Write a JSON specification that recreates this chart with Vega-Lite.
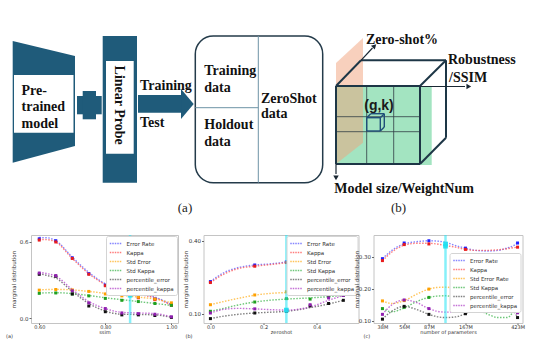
{
  "$schema": "https://vega.github.io/schema/vega-lite/v6.json",
  "padding": 0,
  "background": "white",
  "spacing": 0,
  "resolve": {"scale": {"x": "independent", "y": "independent", "color": "independent", "fill": "independent"}, "legend": {"color": "independent"}},
  "config": {
    "view": {"stroke": null},
    "axis": {"labelFontSize": 5.5, "titleFontSize": 5.5, "titleFontWeight": "normal", "domain": false, "grid": false, "labelFont": "DejaVu Sans", "titleFont": "DejaVu Sans", "labelColor": "#333", "titleColor": "#333", "tickColor": "#666", "labelFlush": false, "labelOverlap": false},
    "axisY": {"tickSize": 2, "labelPadding": 1, "minExtent": 13, "maxExtent": 13, "titlePadding": 2},
    "axisX": {"tickSize": 1.5, "labelPadding": -0.5, "labelFontSize": 5, "titleFontSize": 5, "titlePadding": 0.7},
    "legend": {"fillColor": "white", "strokeColor": "#d4d4d4", "padding": 3, "cornerRadius": 2, "labelFontSize": 5.5, "labelFont": "DejaVu Sans", "labelColor": "#333", "symbolType": "M-1,0H2.2", "symbolStrokeWidth": 1.3, "symbolDash": [1.5, 1], "symbolSize": 56, "rowPadding": 1, "labelOffset": 8.5, "offset": 1},
    "title": {"fontSize": 5, "fontWeight": "normal", "color": "#333", "font": "DejaVu Sans", "orient": "bottom", "anchor": "start", "offset": -1, "frame": "group"}
  },
  "datasets": {
    "dAnchor": [{"x": 0, "y": 0}],
    "dGreen": [{"x": 335, "x2": 430.7, "y": 85, "y2": 164}],
    "dOrange": [{"x": 335, "y": 62, "y2": 163}, {"x": 362, "y": 37, "y2": 141.7}],
    "dArea": [{"id": "trap", "x": 11.7, "y": 40, "y2": 161.7}, {"id": "trap", "x": 74, "y": 55, "y2": 145}, {"id": "head", "x": 180, "y": 88, "y2": 118}, {"id": "head", "x": 192.7, "y": 103, "y2": 103}],
    "dDark": [{"x": 101.7, "x2": 136, "y": 35, "y2": 181.7}, {"x": 76, "x2": 100.7, "y": 95, "y2": 113.3}, {"x": 81.7, "x2": 95, "y": 90, "y2": 118.3}, {"x": 137, "x2": 180.5, "y": 94, "y2": 111.7}],
    "dWhite": [{"x": 13, "x2": 72.5, "y": 74, "y2": 131.7}, {"x": 105, "x2": 132.7, "y": 60, "y2": 152.7}],
    "dBox": [{"x": 194.3, "x2": 321.7, "y": 35, "y2": 181.7}],
    "dDiv": [{"x": 257.3, "x2": 257.3, "y": 35, "y2": 181.7}, {"x": 194.3, "x2": 257.3, "y": 106.7, "y2": 106.7}],
    "dGrid": [{"x": 365.7, "x2": 365.7, "y": 85, "y2": 163}, {"x": 392.7, "x2": 392.7, "y": 85, "y2": 163}, {"x": 335, "x2": 419, "y": 115.7, "y2": 115.7}, {"x": 335, "x2": 419, "y": 130.7, "y2": 130.7}],
    "dCube": [
      {"x": 335, "x2": 419, "y": 85, "y2": 85},
      {"x": 335, "x2": 419, "y": 163, "y2": 163},
      {"x": 335, "x2": 335, "y": 85, "y2": 163},
      {"x": 419, "x2": 419, "y": 85, "y2": 163},
      {"x": 360, "x2": 445, "y": 59.3, "y2": 59.3},
      {"x": 445, "x2": 445, "y": 59.3, "y2": 136.7},
      {"x": 335, "x2": 360, "y": 85, "y2": 59.3},
      {"x": 419, "x2": 445, "y": 85, "y2": 59.3},
      {"x": 419, "x2": 445, "y": 163, "y2": 136.7}
    ],
    "dSmall": [
      {"x": 365.7, "x2": 379.3, "y": 116.7, "y2": 116.7},
      {"x": 365.7, "x2": 379.3, "y": 130, "y2": 130},
      {"x": 365.7, "x2": 365.7, "y": 116.7, "y2": 130},
      {"x": 379.3, "x2": 379.3, "y": 116.7, "y2": 130},
      {"x": 369.7, "x2": 383.3, "y": 112.7, "y2": 112.7},
      {"x": 383.3, "x2": 383.3, "y": 112.7, "y2": 126},
      {"x": 365.7, "x2": 369.7, "y": 116.7, "y2": 112.7},
      {"x": 379.3, "x2": 383.3, "y": 116.7, "y2": 112.7},
      {"x": 379.3, "x2": 383.3, "y": 130, "y2": 126}
    ],
    "dAxisLines": [{"x": 360, "x2": 371.5, "y": 59.3, "y2": 47}, {"x": 419, "x2": 464, "y": 85.5, "y2": 85.5}, {"x": 335, "x2": 335, "y": 163, "y2": 173}],
    "dHeads": [{"x": 373, "y": 45.5, "a": 45}, {"x": 467, "y": 85.5, "a": 90}, {"x": 335, "y": 176, "a": 180}],
    "dText": [
      {"x": 20.5, "y": 94, "t": "Pre-"},
      {"x": 20.5, "y": 110, "t": "trained"},
      {"x": 20.5, "y": 126.7, "t": "model"},
      {"x": 139, "y": 89.3, "t": "Training"},
      {"x": 139, "y": 126, "t": "Test"},
      {"x": 203.3, "y": 74, "t": "Training"},
      {"x": 203.3, "y": 90.7, "t": "data"},
      {"x": 203.3, "y": 128.3, "t": "Holdout"},
      {"x": 203.3, "y": 145, "t": "data"},
      {"x": 260, "y": 101.7, "t": "ZeroShot"},
      {"x": 260, "y": 116.7, "t": "data"},
      {"x": 365, "y": 42.7, "t": "Zero-shot%"},
      {"x": 447, "y": 63.3, "t": "Robustness"},
      {"x": 448, "y": 81, "t": "/SSIM"},
      {"x": 333.3, "y": 191.7, "t": "Model size/WeightNum"}
    ],
    "dRot": [{"x": 113.5, "y": 104.2, "t": "Linear Probe"}],
    "dCap": [{"x": 184, "y": 211, "t": "(a)"}, {"x": 397.5, "y": 211, "t": "(b)"}],
    "dGk": [{"x": 378, "y": 109, "t": "(g,k)"}],
    "aCurve": [
      {"x": 0.6, "Error Rate": 0.635, "Kappa": 0.62, "Std Error": 0.222, "Std Kappa": 0.197, "percentile_error": 0.35, "percentile_kappa": 0.36},
      {"x": 0.625, "Error Rate": 0.633, "Kappa": 0.618, "Std Error": 0.225, "Std Kappa": 0.199, "percentile_error": 0.335, "percentile_kappa": 0.35},
      {"x": 0.65, "Error Rate": 0.61, "Kappa": 0.6, "Std Error": 0.226, "Std Kappa": 0.2, "percentile_error": 0.315, "percentile_kappa": 0.33},
      {"x": 0.7, "Error Rate": 0.48, "Kappa": 0.47, "Std Error": 0.222, "Std Kappa": 0.193, "percentile_error": 0.21, "percentile_kappa": 0.225},
      {"x": 0.75, "Error Rate": 0.36, "Kappa": 0.35, "Std Error": 0.21, "Std Kappa": 0.178, "percentile_error": 0.115, "percentile_kappa": 0.13},
      {"x": 0.8, "Error Rate": 0.27, "Kappa": 0.265, "Std Error": 0.195, "Std Kappa": 0.16, "percentile_error": 0.055, "percentile_kappa": 0.075},
      {"x": 0.85, "Error Rate": 0.22, "Kappa": 0.215, "Std Error": 0.18, "Std Kappa": 0.145, "percentile_error": 0.03, "percentile_kappa": 0.045},
      {"x": 0.9, "Error Rate": 0.19, "Kappa": 0.185, "Std Error": 0.165, "Std Kappa": 0.13, "percentile_error": 0.028, "percentile_kappa": 0.04},
      {"x": 0.95, "Error Rate": 0.165, "Kappa": 0.16, "Std Error": 0.15, "Std Kappa": 0.115, "percentile_error": 0.025, "percentile_kappa": 0.035},
      {"x": 1.0, "Error Rate": 0.105, "Kappa": 0.1, "Std Error": 0.12, "Std Kappa": 0.1, "percentile_error": 0.005, "percentile_kappa": 0.01}
    ],
    "aPts": [
      {"x": 0.6, "Error Rate": 0.625, "Kappa": 0.615, "Std Error": 0.22, "Std Kappa": 0.195, "percentile_error": 0.345, "percentile_kappa": 0.355},
      {"x": 0.65, "Error Rate": 0.61, "Kappa": 0.6, "Std Error": 0.225, "Std Kappa": 0.198, "percentile_error": 0.33, "percentile_kappa": 0.335},
      {"x": 0.7, "Error Rate": 0.475, "Kappa": 0.47, "Std Error": 0.222, "Std Kappa": 0.19, "percentile_error": 0.19, "percentile_kappa": 0.215},
      {"x": 0.75, "Error Rate": 0.35, "Kappa": 0.345, "Std Error": 0.21, "Std Kappa": 0.175, "percentile_error": 0.095, "percentile_kappa": 0.12},
      {"x": 0.8, "Error Rate": 0.26, "Kappa": 0.255, "Std Error": 0.19, "Std Kappa": 0.155, "percentile_error": 0.05, "percentile_kappa": 0.075},
      {"x": 0.85, "Error Rate": 0.215, "Kappa": 0.22, "Std Error": 0.175, "Std Kappa": 0.14, "percentile_error": 0.025, "percentile_kappa": 0.04},
      {"x": 0.9, "Error Rate": 0.165, "Kappa": 0.16, "Std Error": 0.165, "Std Kappa": 0.13, "percentile_error": 0.025, "percentile_kappa": 0.035},
      {"x": 0.95, "Error Rate": 0.15, "Kappa": 0.145, "Std Error": 0.15, "Std Kappa": 0.115, "percentile_error": 0.02, "percentile_kappa": 0.03},
      {"x": 1.0, "Error Rate": 0.105, "Kappa": 0.1, "Std Error": 0.12, "Std Kappa": 0.1, "percentile_error": 0.005, "percentile_kappa": 0.01}
    ],
    "bCurve": [
      {"x": 0, "Error Rate": 0.232, "Kappa": 0.228, "Std Error": 0.137, "Std Kappa": 0.11, "percentile_error": 0.08, "percentile_kappa": 0.103},
      {"x": 0.05, "Error Rate": 0.268, "Kappa": 0.262, "Std Error": 0.15, "Std Kappa": 0.122, "percentile_error": 0.09, "percentile_kappa": 0.118},
      {"x": 0.1, "Error Rate": 0.288, "Kappa": 0.284, "Std Error": 0.162, "Std Kappa": 0.135, "percentile_error": 0.097, "percentile_kappa": 0.122},
      {"x": 0.1667, "Error Rate": 0.3, "Kappa": 0.295, "Std Error": 0.176, "Std Kappa": 0.148, "percentile_error": 0.103, "percentile_kappa": 0.12},
      {"x": 0.22, "Error Rate": 0.304, "Kappa": 0.301, "Std Error": 0.183, "Std Kappa": 0.155, "percentile_error": 0.106, "percentile_kappa": 0.117},
      {"x": 0.2857, "Error Rate": 0.313, "Kappa": 0.31, "Std Error": 0.187, "Std Kappa": 0.16, "percentile_error": 0.11, "percentile_kappa": 0.115},
      {"x": 0.375, "Error Rate": 0.34, "Kappa": 0.335, "Std Error": 0.19, "Std Kappa": 0.165, "percentile_error": 0.125, "percentile_kappa": 0.128},
      {"x": 0.4444, "Error Rate": 0.37, "Kappa": 0.362, "Std Error": 0.195, "Std Kappa": 0.17, "percentile_error": 0.14, "percentile_kappa": 0.155},
      {"x": 0.5, "Error Rate": 0.4, "Kappa": 0.39, "Std Error": 0.2, "Std Kappa": 0.175, "percentile_error": 0.155, "percentile_kappa": 0.175}
    ],
    "bPts": [
      {"x": 0, "Error Rate": 0.232, "Kappa": 0.228, "Std Error": 0.137, "Std Kappa": 0.11, "percentile_error": 0.08, "percentile_kappa": 0.103},
      {"x": 0.1667, "Error Rate": 0.3, "Kappa": 0.295, "Std Error": 0.177, "Std Kappa": 0.148, "percentile_error": 0.103, "percentile_kappa": 0.12},
      {"x": 0.2857, "Error Rate": 0.313, "Kappa": 0.31, "Std Error": 0.19, "Std Kappa": 0.162, "percentile_error": 0.11, "percentile_kappa": 0.115},
      {"x": 0.375, "Error Rate": 0.34, "Kappa": 0.335, "Std Error": 0.185, "Std Kappa": 0.16, "percentile_error": 0.132, "percentile_kappa": 0.137},
      {"x": 0.4444, "Error Rate": 0.37, "Kappa": 0.362, "Std Error": 0.19, "Std Kappa": 0.172, "percentile_error": 0.142, "percentile_kappa": 0.165},
      {"x": 0.5, "Error Rate": 0.4, "Kappa": 0.39, "Std Error": 0.2, "Std Kappa": 0.175, "percentile_error": 0.155, "percentile_kappa": 0.175}
    ],
    "cCurve": [
      {"x": 38, "Error Rate": 0.294, "Kappa": 0.288, "Std Error Rate": 0.162, "Std Kappa": 0.138, "percentile_error": 0.105, "percentile_kappa": 0.12},
      {"x": 45, "Error Rate": 0.32, "Kappa": 0.315, "Std Error Rate": 0.154, "Std Kappa": 0.128, "percentile_error": 0.13, "percentile_kappa": 0.15},
      {"x": 56, "Error Rate": 0.34, "Kappa": 0.336, "Std Error Rate": 0.163, "Std Kappa": 0.14, "percentile_error": 0.145, "percentile_kappa": 0.165},
      {"x": 70, "Error Rate": 0.347, "Kappa": 0.342, "Std Error Rate": 0.183, "Std Kappa": 0.16, "percentile_error": 0.135, "percentile_kappa": 0.157},
      {"x": 87, "Error Rate": 0.35, "Kappa": 0.342, "Std Error Rate": 0.199, "Std Kappa": 0.173, "percentile_error": 0.12, "percentile_kappa": 0.138},
      {"x": 100, "Error Rate": 0.349, "Kappa": 0.34, "Std Error Rate": 0.204, "Std Kappa": 0.177, "percentile_error": 0.113, "percentile_kappa": 0.13},
      {"x": 117, "Error Rate": 0.345, "Kappa": 0.335, "Std Error Rate": 0.205, "Std Kappa": 0.178, "percentile_error": 0.11, "percentile_kappa": 0.127},
      {"x": 140, "Error Rate": 0.335, "Kappa": 0.33, "Std Error Rate": 0.2, "Std Kappa": 0.172, "percentile_error": 0.112, "percentile_kappa": 0.128},
      {"x": 167, "Error Rate": 0.327, "Kappa": 0.323, "Std Error Rate": 0.188, "Std Kappa": 0.16, "percentile_error": 0.122, "percentile_kappa": 0.138},
      {"x": 200, "Error Rate": 0.32, "Kappa": 0.32, "Std Error Rate": 0.172, "Std Kappa": 0.14, "percentile_error": 0.135, "percentile_kappa": 0.152},
      {"x": 250, "Error Rate": 0.318, "Kappa": 0.32, "Std Error Rate": 0.153, "Std Kappa": 0.12, "percentile_error": 0.15, "percentile_kappa": 0.165},
      {"x": 300, "Error Rate": 0.32, "Kappa": 0.322, "Std Error Rate": 0.142, "Std Kappa": 0.11, "percentile_error": 0.158, "percentile_kappa": 0.17},
      {"x": 350, "Error Rate": 0.327, "Kappa": 0.325, "Std Error Rate": 0.145, "Std Kappa": 0.11, "percentile_error": 0.152, "percentile_kappa": 0.163},
      {"x": 390, "Error Rate": 0.334, "Kappa": 0.328, "Std Error Rate": 0.168, "Std Kappa": 0.13, "percentile_error": 0.135, "percentile_kappa": 0.148},
      {"x": 423, "Error Rate": 0.343, "Kappa": 0.33, "Std Error Rate": 0.205, "Std Kappa": 0.173, "percentile_error": 0.11, "percentile_kappa": 0.125}
    ],
    "cPts": [
      {"x": 38, "Error Rate": 0.294, "Kappa": 0.288, "Std Error Rate": 0.162, "Std Kappa": 0.138, "percentile_error": 0.105, "percentile_kappa": 0.12},
      {"x": 56, "Error Rate": 0.343, "Kappa": 0.338, "Std Error Rate": 0.163, "Std Kappa": 0.142, "percentile_error": 0.145, "percentile_kappa": 0.165},
      {"x": 87, "Error Rate": 0.35, "Kappa": 0.34, "Std Error Rate": 0.199, "Std Kappa": 0.173, "percentile_error": 0.12, "percentile_kappa": 0.138},
      {"x": 167, "Error Rate": 0.327, "Kappa": 0.323, "Std Error Rate": 0.188, "Std Kappa": 0.165, "percentile_error": 0.122, "percentile_kappa": 0.138},
      {"x": 423, "Error Rate": 0.343, "Kappa": 0.33, "Std Error Rate": 0.205, "Std Kappa": 0.173, "percentile_error": 0.11, "percentile_kappa": 0.125}
    ]
  },
  "vconcat": [
    {
      "width": 512,
      "height": 232,
      "encoding": {
        "x": {"field": "x", "type": "quantitative", "scale": {"domain": [30, 542], "nice": false, "zero": false}, "axis": null},
        "y": {"field": "y", "type": "quantitative", "scale": {"domain": [0, 232], "nice": false, "zero": false, "reverse": true}, "axis": null}
      },
      "layer": [
        {"data": {"name": "dAnchor"}, "mark": {"type": "point", "opacity": 0, "size": 1}},
        {"data": {"name": "dGreen"}, "mark": {"type": "rect", "fill": "#a3e4c1"}, "encoding": {"x2": {"field": "x2"}, "y2": {"field": "y2"}}},
        {"data": {"name": "dOrange"}, "mark": {"type": "area", "orient": "vertical", "fill": "#f2a27c", "opacity": 0.5}, "encoding": {"y2": {"field": "y2"}}},
        {"data": {"name": "dArea"}, "mark": {"type": "area", "orient": "vertical", "fill": "#1f5b7a"}, "encoding": {"y2": {"field": "y2"}, "detail": {"field": "id"}}},
        {"data": {"name": "dDark"}, "mark": {"type": "rect", "fill": "#1f5b7a"}, "encoding": {"x2": {"field": "x2"}, "y2": {"field": "y2"}}},
        {"data": {"name": "dWhite"}, "mark": {"type": "rect", "fill": "white"}, "encoding": {"x2": {"field": "x2"}, "y2": {"field": "y2"}}},
        {"data": {"name": "dBox"}, "mark": {"type": "rect", "fill": "white", "stroke": "#243b4a", "strokeWidth": 1.5, "cornerRadius": 18}, "encoding": {"x2": {"field": "x2"}, "y2": {"field": "y2"}}},
        {"data": {"name": "dDiv"}, "mark": {"type": "rule", "color": "#6d93a6", "strokeWidth": 1}, "encoding": {"x2": {"field": "x2"}, "y2": {"field": "y2"}}},
        {"data": {"name": "dGrid"}, "mark": {"type": "rule", "color": "#2e3b42", "strokeWidth": 0.8}, "encoding": {"x2": {"field": "x2"}, "y2": {"field": "y2"}}},
        {"data": {"name": "dCube"}, "mark": {"type": "rule", "color": "#1d3646", "strokeWidth": 2}, "encoding": {"x2": {"field": "x2"}, "y2": {"field": "y2"}}},
        {"data": {"name": "dSmall"}, "mark": {"type": "rule", "color": "#1f4e79", "strokeWidth": 1.4}, "encoding": {"x2": {"field": "x2"}, "y2": {"field": "y2"}}},
        {"data": {"name": "dAxisLines"}, "mark": {"type": "rule", "color": "#1a2733", "strokeWidth": 1.2}, "encoding": {"x2": {"field": "x2"}, "y2": {"field": "y2"}}},
        {"data": {"name": "dHeads"}, "mark": {"type": "point", "shape": "triangle", "filled": true, "size": 30, "color": "#1a2733", "opacity": 1}, "encoding": {"angle": {"field": "a", "type": "quantitative", "scale": null}}},
        {"data": {"name": "dText"}, "mark": {"type": "text", "font": "Liberation Serif", "fontWeight": "bold", "fontSize": 14, "align": "left", "baseline": "alphabetic", "color": "#111"}, "encoding": {"text": {"field": "t"}}},
        {"data": {"name": "dRot"}, "mark": {"type": "text", "font": "Liberation Serif", "fontWeight": "bold", "fontSize": 14, "align": "center", "baseline": "alphabetic", "angle": 90, "color": "#111"}, "encoding": {"text": {"field": "t"}}},
        {"data": {"name": "dCap"}, "mark": {"type": "text", "font": "Liberation Serif", "fontSize": 13, "align": "center", "baseline": "alphabetic", "color": "#222"}, "encoding": {"text": {"field": "t"}}},
        {"data": {"name": "dGk"}, "mark": {"type": "text", "font": "Liberation Sans", "fontWeight": "bold", "fontSize": 14, "align": "center", "baseline": "alphabetic", "color": "#1a1a1a"}, "encoding": {"text": {"field": "t"}}}
      ]
    },
    {
      "spacing": 3.5,
      "resolve": {"scale": {"x": "independent", "y": "independent", "color": "independent", "fill": "independent"}, "legend": {"color": "independent"}},
      "hconcat": [
        {
          "width": 147, "height": 88,
          "view": {"stroke": "#c4c4c4"},
          "title": {"text": "(a)", "dx": -25},
          "layer": [
            {"data": {"name": "aCurve"}, "transform": [{"fold": ["Error Rate", "Kappa", "Std Error", "Std Kappa", "percentile_error", "percentile_kappa"], "as": ["s", "v"]}],
             "mark": {"type": "line", "interpolate": "monotone", "strokeDash": [1.5, 1.5], "strokeWidth": 1.4, "opacity": 0.75},
             "encoding": {
               "x": {"field": "x", "type": "quantitative", "scale": {"domain": [0.575, 1.02], "nice": false, "zero": false}, "axis": {"values": [0.6, 0.65, 0.7, 0.75, 0.8, 0.85, 0.9, 0.95, 1.0], "format": ".2f", "title": "ssim", "labelOverlap": false}},
               "y": {"field": "v", "type": "quantitative", "scale": {"domain": [-0.039, 0.655], "nice": false, "zero": false}, "axis": {"values": [0, 0.1, 0.2, 0.3, 0.4, 0.5, 0.6], "format": ".1f", "title": "marginal distribution", "labelOverlap": false}},
               "color": {"field": "s", "type": "nominal", "scale": {"domain": ["Error Rate", "Kappa", "Std Error", "Std Kappa", "percentile_error", "percentile_kappa"], "range": ["#5b5bff", "#ff5050", "#ffb020", "#3cb44b", "#555555", "#b040c8"]}, "legend": {"orient": "top-right", "title": null}}
             }},
            {"data": {"name": "aPts"}, "transform": [{"fold": ["Error Rate", "Kappa", "Std Error", "Std Kappa", "percentile_error", "percentile_kappa"], "as": ["s", "v"]}],
             "mark": {"type": "square", "size": 9, "opacity": 1},
             "encoding": {
               "x": {"field": "x", "type": "quantitative"},
               "y": {"field": "v", "type": "quantitative"},
               "fill": {"field": "s", "type": "nominal", "scale": {"domain": ["Error Rate", "Kappa", "Std Error", "Std Kappa", "percentile_error", "percentile_kappa"], "range": ["#1f1fff", "#e81c1c", "#ffa000", "#20a020", "#111111", "#9020b0"]}, "legend": null}
             }},
            {"data": {"values": [{"x": 0.875}]}, "mark": {"type": "rule", "color": "#22e4f4", "strokeWidth": 2.5, "opacity": 0.55}, "encoding": {"x": {"field": "x", "type": "quantitative"}}},
            {"data": {"values": [{"x": 0.875, "v": 0.18}]}, "mark": {"type": "square", "size": 22, "color": "#20e0f0", "opacity": 0.9}, "encoding": {"x": {"field": "x", "type": "quantitative"}, "y": {"field": "v", "type": "quantitative"}}}
          ]
        },
        {
          "spacing": -6,
          "resolve": {"scale": {"x": "independent", "y": "independent", "color": "independent", "fill": "independent"}, "legend": {"color": "independent"}},
          "hconcat": [
            {
              "width": 155, "height": 88,
              "view": {"stroke": "#c4c4c4"},
              "title": {"text": "(b)", "dx": -18},
              "layer": [
                {"data": {"name": "bCurve"}, "transform": [{"fold": ["Error Rate", "Kappa", "Std Error", "Std Kappa", "percentile_error", "percentile_kappa"], "as": ["s", "v"]}],
                 "mark": {"type": "line", "interpolate": "monotone", "strokeDash": [1.5, 1.5], "strokeWidth": 1.4, "opacity": 0.75},
                 "encoding": {
                   "x": {"field": "x", "type": "quantitative", "scale": {"domain": [-0.026, 0.557], "nice": false, "zero": false}, "axis": {"values": [0, 0.1, 0.2, 0.3, 0.4, 0.5], "format": ".1f", "title": "zeroshot", "labelOverlap": false}},
                   "y": {"field": "v", "type": "quantitative", "scale": {"domain": [0.062, 0.423], "nice": false, "zero": false}, "axis": {"values": [0.1, 0.15, 0.2, 0.25, 0.3, 0.35, 0.4], "format": ".2f", "title": "marginal distribution", "labelOverlap": false}},
                   "color": {"field": "s", "type": "nominal", "scale": {"domain": ["Error Rate", "Kappa", "Std Error", "Std Kappa", "percentile_error", "percentile_kappa"], "range": ["#5b5bff", "#ff5050", "#ffb020", "#3cb44b", "#555555", "#b040c8"]}, "legend": {"orient": "top-right", "title": null}}
                 }},
                {"data": {"name": "bPts"}, "transform": [{"fold": ["Error Rate", "Kappa", "Std Error", "Std Kappa", "percentile_error", "percentile_kappa"], "as": ["s", "v"]}],
                 "mark": {"type": "square", "size": 9, "opacity": 1},
                 "encoding": {
                   "x": {"field": "x", "type": "quantitative"},
                   "y": {"field": "v", "type": "quantitative"},
                   "fill": {"field": "s", "type": "nominal", "scale": {"domain": ["Error Rate", "Kappa", "Std Error", "Std Kappa", "percentile_error", "percentile_kappa"], "range": ["#1f1fff", "#e81c1c", "#ffa000", "#20a020", "#111111", "#9020b0"]}, "legend": null}
                 }},
                {"data": {"values": [{"x": 0.2857}]}, "mark": {"type": "rule", "color": "#22e4f4", "strokeWidth": 2.5, "opacity": 0.55}, "encoding": {"x": {"field": "x", "type": "quantitative"}}},
                {"data": {"values": [{"x": 0.2857, "v": 0.115}]}, "mark": {"type": "square", "size": 22, "color": "#20e0f0", "opacity": 0.9}, "encoding": {"x": {"field": "x", "type": "quantitative"}, "y": {"field": "v", "type": "quantitative"}}}
              ]
            },
            {
              "width": 149, "height": 88,
              "view": {"stroke": "#c4c4c4"},
              "title": {"text": "(c)", "dx": -10},
              "layer": [
                {"data": {"name": "cCurve"}, "transform": [{"fold": ["Error Rate", "Kappa", "Std Error Rate", "Std Kappa", "percentile_error", "percentile_kappa"], "as": ["s", "v"]}],
                 "mark": {"type": "line", "interpolate": "monotone", "strokeDash": [1.5, 1.5], "strokeWidth": 1.4, "opacity": 0.75},
                 "encoding": {
                   "x": {"field": "x", "type": "quantitative", "scale": {"type": "log", "domain": [32.4, 462], "nice": false}, "axis": {"values": [38, 56, 87, 167, 423], "labelExpr": "datum.value + 'M'", "title": "number of parameters", "labelOverlap": false}},
                   "y": {"field": "v", "type": "quantitative", "scale": {"domain": [0.093, 0.368], "nice": false, "zero": false}, "axis": {"values": [0.1, 0.15, 0.2, 0.25, 0.3, 0.35], "format": ".2f", "title": "marginal distribution", "labelOverlap": false, "titlePadding": 1.5}},
                   "color": {"field": "s", "type": "nominal", "scale": {"domain": ["Error Rate", "Kappa", "Std Error Rate", "Std Kappa", "percentile_error", "percentile_kappa"], "range": ["#5b5bff", "#ff5050", "#ffb020", "#3cb44b", "#555555", "#b040c8"]}, "legend": {"orient": "none", "legendX": 76, "legendY": 18, "title": null}}
                 }},
                {"data": {"name": "cPts"}, "transform": [{"fold": ["Error Rate", "Kappa", "Std Error Rate", "Std Kappa", "percentile_error", "percentile_kappa"], "as": ["s", "v"]}],
                 "mark": {"type": "square", "size": 9, "opacity": 1},
                 "encoding": {
                   "x": {"field": "x", "type": "quantitative"},
                   "y": {"field": "v", "type": "quantitative"},
                   "fill": {"field": "s", "type": "nominal", "scale": {"domain": ["Error Rate", "Kappa", "Std Error Rate", "Std Kappa", "percentile_error", "percentile_kappa"], "range": ["#1f1fff", "#e81c1c", "#ffa000", "#20a020", "#111111", "#9020b0"]}, "legend": null}
                 }},
                {"data": {"values": [{"x": 117}]}, "mark": {"type": "rule", "color": "#22e4f4", "strokeWidth": 2.5, "opacity": 0.55}, "encoding": {"x": {"field": "x", "type": "quantitative"}}},
                {"data": {"values": [{"x": 117, "v": 0.333}, {"x": 117, "v": 0.34}]}, "mark": {"type": "square", "size": 22, "color": "#20e0f0", "opacity": 0.9}, "encoding": {"x": {"field": "x", "type": "quantitative"}, "y": {"field": "v", "type": "quantitative"}}}
              ]
            }
          ]
        }
      ]
    }
  ]
}
